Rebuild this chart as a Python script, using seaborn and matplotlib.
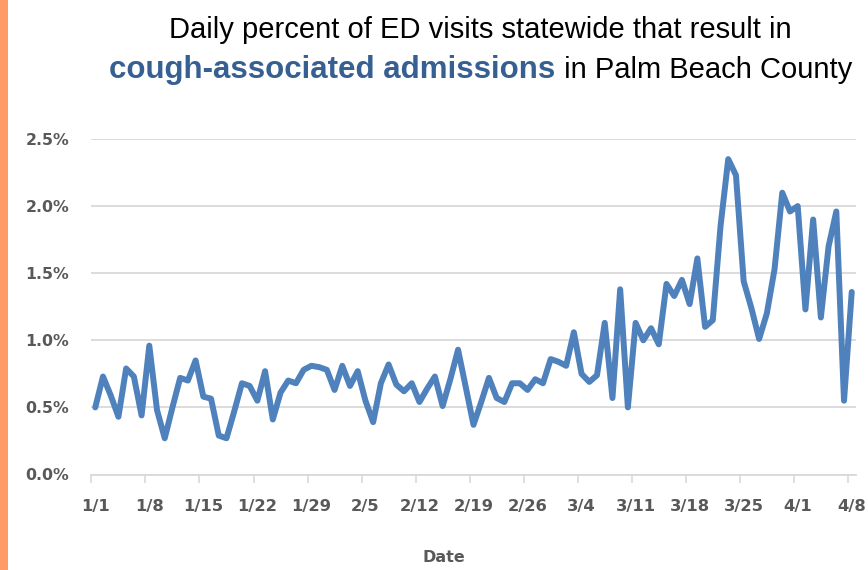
import numpy as np
import pandas as pd
import matplotlib
matplotlib.use("Agg")
import matplotlib.pyplot as plt
from matplotlib.patches import Rectangle
import seaborn as sns

# ---------------- data ----------------
start_date = "2020-01-01"
pct_values = [
    0.50, 0.73, 0.59, 0.43, 0.79, 0.73, 0.44, 0.96, 0.48, 0.27,
    0.50, 0.72, 0.70, 0.85, 0.58, 0.565, 0.29, 0.27, 0.47, 0.68,
    0.66, 0.55, 0.77, 0.41, 0.61, 0.70, 0.68, 0.78, 0.81, 0.80,
    0.78, 0.63, 0.81, 0.66, 0.77, 0.55, 0.39, 0.68, 0.82, 0.67,
    0.62, 0.68, 0.54, 0.64, 0.73, 0.51, 0.71, 0.93, 0.65, 0.37,
    0.54, 0.72, 0.57, 0.54, 0.68, 0.68, 0.63, 0.71, 0.68, 0.86,
    0.84, 0.81, 1.06, 0.75, 0.69, 0.74, 1.13, 0.57, 1.38, 0.50,
    1.13, 1.00, 1.09, 0.97, 1.42, 1.33, 1.45, 1.27, 1.61, 1.10,
    1.15, 1.85, 2.35, 2.23, 1.44, 1.24, 1.01, 1.20, 1.53, 2.10,
    1.96, 2.00, 1.23, 1.90, 1.17, 1.70, 1.96, 0.55, 1.36,
]
tick_labels = ["1/1", "1/8", "1/15", "1/22", "1/29", "2/5", "2/12", "2/19",
               "2/26", "3/4", "3/11", "3/18", "3/25", "4/1", "4/8"]
y_ticks = [0.0, 0.5, 1.0, 1.5, 2.0, 2.5]
title_line1 = "Daily percent of ED visits statewide that result in"
title_bold = "cough-associated admissions"
title_rest = " in Palm Beach County"
x_label = "Date"

dates = pd.date_range(start_date, periods=len(pct_values), freq="D")
df = pd.DataFrame({"Date": dates, "Percent": pct_values})
tick_dates = pd.to_datetime(["2020/" + t for t in tick_labels])

# ---------------- style ----------------
sns.set_theme(style="white")
plt.rcParams["font.family"] = ["Liberation Sans", "DejaVu Sans"]

W, H = 868, 570
fig = plt.figure(figsize=(W / 100, H / 100), dpi=100)
fig.patch.set_facecolor("white")

ax = fig.add_axes([91.4 / W, 1 - 474.5 / H, (855.6 - 91.4) / W, (474.5 - 139) / H])
ax.set_facecolor("white")

sns.lineplot(data=df, x="Date", y="Percent", ax=ax, color="#4F81BD",
             linewidth=4.3, solid_joinstyle="round", solid_capstyle="round",
             zorder=3)

half = pd.Timedelta(hours=12)
ax.set_xlim(dates[0] - half, dates[-1] + half)
ax.set_ylim(0, 2.5)

ax.set_xticks(tick_dates)
ax.set_xticklabels(tick_labels)
ax.set_xticks(tick_dates - half, minor=True)
ax.set_yticks(y_ticks)
ax.set_yticklabels([f"{v:.1f}%" for v in y_ticks])

for lab in ax.get_yticklabels():
    lab.set_fontfamily("DejaVu Sans")
    lab.set_fontweight("bold")
    lab.set_fontsize(11.3)
    lab.set_color("#595959")
for lab in ax.get_xticklabels():
    lab.set_fontfamily("DejaVu Sans")
    lab.set_fontweight("bold")
    lab.set_fontsize(11.8)
    lab.set_color("#595959")

ax.tick_params(axis="x", which="major", length=0, pad=18)
ax.tick_params(axis="x", which="minor", length=6, width=1.2, color="#D9D9D9",
               bottom=True)
ax.tick_params(axis="y", length=0, pad=16)

ax.yaxis.grid(True, color="#D9D9D9", linewidth=1.3)
ax.xaxis.grid(False)
for s in ["top", "left", "right"]:
    ax.spines[s].set_visible(False)
ax.spines["bottom"].set_color("#D9D9D9")
ax.spines["bottom"].set_linewidth(1.3)
ax.set_xlabel("")
ax.set_ylabel("")

fig.text(444 / W, 1 - 557 / H, x_label, ha="center", va="center",
         fontfamily="DejaVu Sans", fontweight="bold", fontsize=11.5,
         color="#595959")

# orange side bar
fig.patches.append(Rectangle((0, 0), 8 / W, 1, transform=fig.transFigure,
                             facecolor="#FF9B66", edgecolor="none"))

# title
fig.text(480.5 / W, 1 - 38 / H, title_line1, ha="center", va="baseline",
         fontsize=21, color="black")
fig.canvas.draw()
r = fig.canvas.get_renderer()
tb = fig.text(0, 0, title_bold, fontsize=22.5, fontweight="bold",
              color="#376092", va="baseline", ha="left")
tr = fig.text(0, 0, title_rest, fontsize=21, color="black",
              va="baseline", ha="left")
wb = tb.get_window_extent(r).width
wr = tr.get_window_extent(r).width
x0 = 480.5 - (wb + wr) / 2
tb.set_position((x0 / W, 1 - 78 / H))
tr.set_position(((x0 + wb) / W, 1 - 78 / H))

fig.savefig("out.png", dpi=100, facecolor="white")
